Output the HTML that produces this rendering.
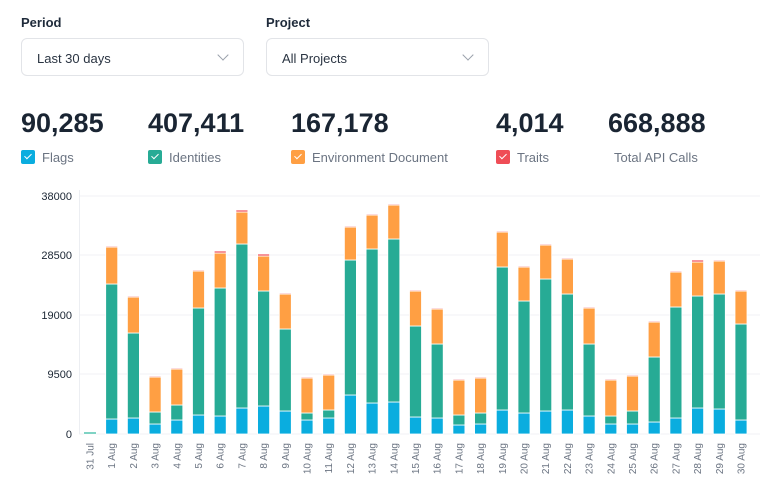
<!DOCTYPE html>
<html><head><meta charset="utf-8"><style>
body{margin:0;width:780px;height:501px;background:#fff;font-family:"Liberation Sans",sans-serif;position:relative;overflow:hidden}
.a{position:absolute}
.lab{font-size:13px;font-weight:bold;color:#1e2a3a}
.sel{border:1px solid #e2e4e8;border-radius:6px;width:223px;height:38px;box-sizing:border-box}
.sel span{position:absolute;left:15px;top:12px;font-size:13px;color:#2a3442}
.sel i{position:absolute;right:16px;top:12px;width:7px;height:7px;border-right:1.5px solid #9aa1ab;border-bottom:1.5px solid #9aa1ab;transform:rotate(45deg)}
.num{font-size:27px;font-weight:bold;color:#1a2533;top:108px}
.st{font-size:13px;color:#6b7482;top:150px}
.cb{position:absolute;left:0;top:0;width:14px;height:14px;border-radius:2px}
.cb:after{content:"";position:absolute;left:4.5px;top:2px;width:3px;height:6px;border-right:1.5px solid #fff;border-bottom:1.5px solid #fff;transform:rotate(45deg)}
.st b{font-weight:normal;position:absolute;left:21px;top:0;white-space:nowrap}
</style></head><body>
<div class="a lab" style="left:21px;top:15px">Period</div>
<div class="a lab" style="left:266px;top:15px">Project</div>
<div class="a sel" style="left:21px;top:38px"><span>Last 30 days</span><i></i></div>
<div class="a sel" style="left:266px;top:38px"><span>All Projects</span><i></i></div>
<div class="a num" style="left:21px">90,285</div>
<div class="a num" style="left:148px">407,411</div>
<div class="a num" style="left:291px">167,178</div>
<div class="a num" style="left:496px">4,014</div>
<div class="a num" style="left:608px">668,888</div>
<div class="a st" style="left:21px"><div class="cb" style="background:#0aaddf"></div><b>Flags</b></div>
<div class="a st" style="left:148px"><div class="cb" style="background:#27ab95"></div><b>Identities</b></div>
<div class="a st" style="left:291px"><div class="cb" style="background:#ff9f43"></div><b>Environment Document</b></div>
<div class="a st" style="left:496px"><div class="cb" style="background:#ef4d56"></div><b>Traits</b></div>
<div class="a st" style="left:614px">Total API Calls</div>
<svg class="a" style="left:0;top:0" width="780" height="501" id="s"></svg>
<script>
var d=[[433,433,433,433],[419,284,247,246],[418,333,297,296],[424,412,377,376],[420,405,369,368],[415,308,271,270],[416,288,253,251],[408,244,212,210],[406,291,256,254],[411,329,294,293],[420,413,378,377],[418,410,375,374],[395,260,227,226],[403,249,215,214],[402,239,205,204],[417,326,291,290],[418,344,309,308],[425,415,380,379],[424,413,378,377],[410,267,232,231],[413,301,267,266],[411,279,245,244],[410,294,259,258],[416,344,308,307],[424,416,380,379],[424,411,376,375],[422,357,322,321],[418,307,272,271],[408,296,262,260],[409,294,261,260],[420,324,291,290]];
var L=["31 Jul"];for(var i=1;i<=30;i++)L.push(i+" Aug");
var h='';
[[196,"38000"],[255,"28500"],[315,"19000"],[374,"9500"],[434,"0"]].forEach(function(g){
h+='<line x1="79" x2="760" y1="'+g[0]+'" y2="'+g[0]+'" stroke="#f0f1f4" stroke-width="1"/>';
h+='<text x="72" y="'+(g[0]+4)+'" text-anchor="end" font-size="11" fill="#1a2533" font-family="Liberation Sans">'+g[1]+'</text>';});
h+='<line x1="79.5" x2="79.5" y1="190" y2="434" stroke="#eceef2"/>';
var C=["#0aaddf","#27ab95","#ff9f43","#ef4d56"];
d.forEach(function(b,i){var x=90+i*21.7,w=12,prev=434;
for(var k=0;k<4;k++){var t=b[k];if(prev-t>0){h+='<rect x="'+(x-w/2)+'" y="'+t+'" width="'+w+'" height="'+(prev-t)+'" fill="'+C[k]+'" stroke="#fff" stroke-width="0.8"/>';}prev=t;}
if(i==0)h+='<rect x="'+(x-6)+'" y="432" width="12" height="2" fill="#7fd3c4"/>';
h+='<text transform="translate('+(x+3.5)+',443) rotate(-90)" text-anchor="end" font-size="10" fill="#6b7482" font-family="Liberation Sans">'+L[i]+'</text>';});
document.getElementById('s').innerHTML=h;
</script>
</body></html>
